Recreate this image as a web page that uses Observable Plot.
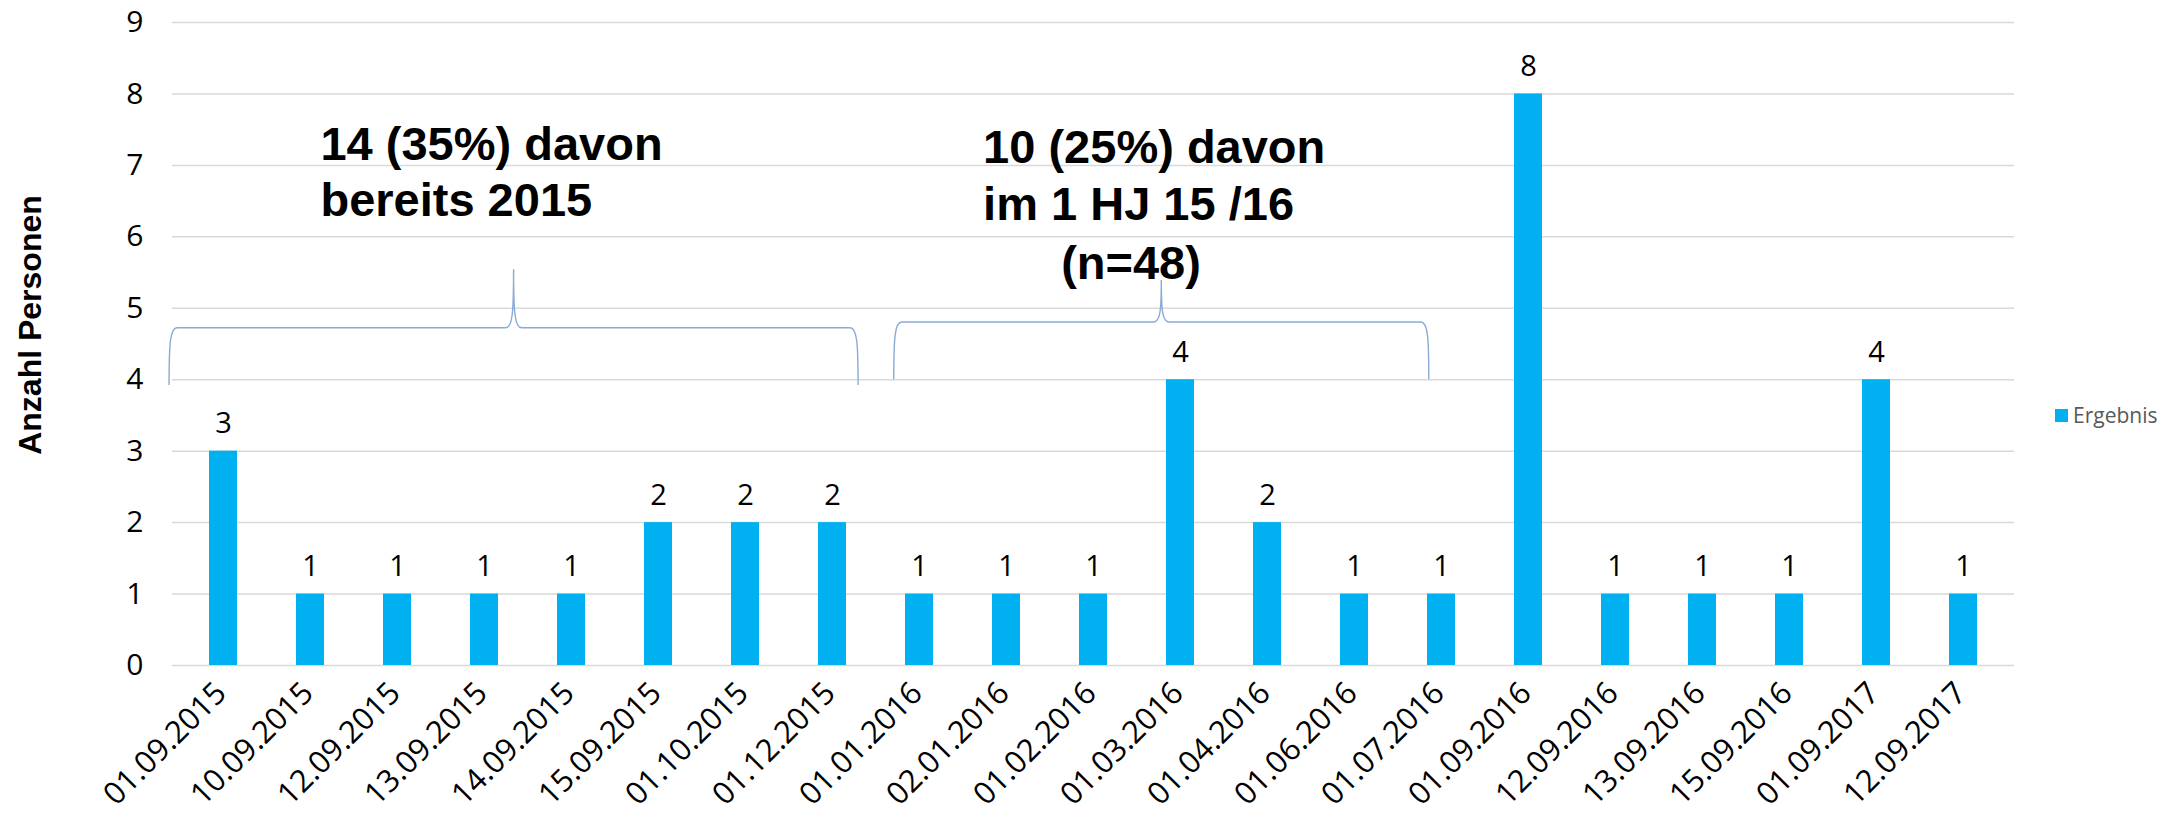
<!DOCTYPE html>
<html>
<head>
<meta charset="utf-8">
<script src="https://cdn.jsdelivr.net/npm/d3@7"></script>
<script src="https://cdn.jsdelivr.net/npm/@observablehq/plot@0.6"></script>
<style>
html, body { margin: 0; padding: 0; background: #fff; }
#wrap { position: relative; width: 2180px; height: 819px; overflow: hidden; }
#legend { position: absolute; left: 2055px; top: 401px; font-family: "Open Sans", sans-serif; font-size: 21px; color: #595959; display: flex; align-items: center; white-space: nowrap; }
#legend .sw { width: 13px; height: 13px; margin-right: 5px; }
</style>
</head>
<body>
<div id="wrap"></div>
<script>
// ---- data ----
const categories = ["01.09.2015","10.09.2015","12.09.2015","13.09.2015","14.09.2015","15.09.2015","01.10.2015","01.12.2015","01.01.2016","02.01.2016","01.02.2016","01.03.2016","01.04.2016","01.06.2016","01.07.2016","01.09.2016","12.09.2016","13.09.2016","15.09.2016","01.09.2017","12.09.2017"];
const values = [3,1,1,1,1,2,2,2,1,1,1,4,2,1,1,8,1,1,1,4,1];
const seriesName = "Ergebnis";
const yTicks = [0,1,2,3,4,5,6,7,8,9];
const yTitle = "Anzahl Personen";
// annotation lines: fractional category index, value position of baseline
const annotationAt = [1.12, 1.12, 8.737, 8.737, 10.437];
const annotationY = [7.07, 6.29, 7.03, 6.23, 5.40];
const annotationText = ["14 (35%) davon", "bereits 2015", "10 (25%) davon", "im 1 HJ 15 /16", "(n=48)"];
const annotationAnchor = ["start", "start", "start", "start", "middle"];
// braces: from/to fractional category index; base, bar and tip as values
const braceFrom = [-0.62, 7.71];
const braceTo = [7.30, 13.86];
const braceBase = [3.92, 4.0];
const braceBar = [4.72, 4.80];
const braceTip = [5.54, 5.39];

const data = categories.map((c, i) => ({date: c, value: values[i]}));
const barColor = "#00B0F0";
const braceColor = "#8AACD4";

function centerAt(scales, at) {
  const x = scales.x;
  const bw = typeof x.bandwidth === "function" ? x.bandwidth() : 0;
  const x0 = x(categories[0]) + bw / 2;
  const step = x(categories[1]) - x(categories[0]);
  return x0 + at * step;
}

const braceMark = (index, scales) => {
  const g = d3.create("svg:g").attr("fill", "none").attr("stroke", braceColor).attr("stroke-width", 1.4);
  braceFrom.forEach((f, i) => {
    const x0 = centerAt(scales, f), x1 = centerAt(scales, braceTo[i]);
    const mid = (x0 + x1) / 2;
    const yb = scales.y(braceBase[i]), yr = scales.y(braceBar[i]), yt = scales.y(braceTip[i]);
    const r = 8, h = yb - yr, ht = yr - yt;
    const p = d3.path();
    p.moveTo(x0, yb);
    p.bezierCurveTo(x0, yr + h * 0.25, x0 + r * 0.15, yr, x0 + r, yr);
    p.lineTo(mid - r, yr);
    p.bezierCurveTo(mid - r * 0.15, yr, mid, yr - ht * 0.25, mid, yt);
    p.bezierCurveTo(mid, yr - ht * 0.25, mid + r * 0.15, yr, mid + r, yr);
    p.lineTo(x1 - r, yr);
    p.bezierCurveTo(x1 - r * 0.15, yr, x1, yr + h * 0.25, x1, yb);
    g.append("path").attr("d", p.toString());
  });
  return g.node();
};

const annotationMark = (index, scales) => {
  const g = d3.create("svg:g")
    .attr("font-family", "'Liberation Sans', Arial, sans-serif")
    .attr("font-weight", "bold")
    .attr("font-size", 47)
    .attr("fill", "#000");
  annotationText.forEach((t, i) => {
    g.append("text")
      .attr("x", centerAt(scales, annotationAt[i]))
      .attr("y", scales.y(annotationY[i]))
      .attr("text-anchor", annotationAnchor[i])
      .text(t);
  });
  return g.node();
};

const chart = Plot.plot({
  width: 2180,
  height: 819,
  marginLeft: 172,
  marginRight: 166,
  marginTop: 22,
  marginBottom: 154,
  style: {fontFamily: "'Open Sans', sans-serif", background: "white", color: "#000", overflow: "visible"},
  x: {domain: categories, paddingInner: 0.68, paddingOuter: 0.34, label: null},
  y: {domain: [0, 9], ticks: yTicks, label: null},
  marks: [
    Plot.gridY(yTicks, {stroke: "#D9D9D9", strokeOpacity: 1, strokeWidth: 1.5}),
    Plot.barY(data, {x: "date", y: "value", fill: barColor}),
    Plot.text(data, {x: "date", y: "value", text: d => String(d.value), dy: -18, lineAnchor: "bottom", fontSize: 29, fill: "#000"}),
    Plot.axisY(yTicks, {tickSize: 0, tickPadding: 29, fontSize: 30, tickFormat: d => String(d), label: null}),
    Plot.axisX({tickSize: 0, tickPadding: 14, tickRotate: -45, textAnchor: "end", lineAnchor: "top", dx: -11, fontSize: 31, label: null}),
    Plot.text([yTitle], {text: d => d, frameAnchor: "left", rotate: -90, dx: -142, dy: -19, textAnchor: "middle", fontSize: 32, fontWeight: "bold", fontFamily: "'Liberation Sans', Arial, sans-serif", lineAnchor: "middle", fill: "#000"}),
    braceMark,
    annotationMark
  ]
});

const wrap = document.getElementById("wrap");
wrap.appendChild(chart);
const legend = document.createElement("div");
legend.id = "legend";
const sw = document.createElement("span");
sw.className = "sw";
sw.style.background = barColor;
const lab = document.createElement("span");
lab.textContent = seriesName;
legend.appendChild(sw);
legend.appendChild(lab);
wrap.appendChild(legend);
</script>
</body>
</html>
